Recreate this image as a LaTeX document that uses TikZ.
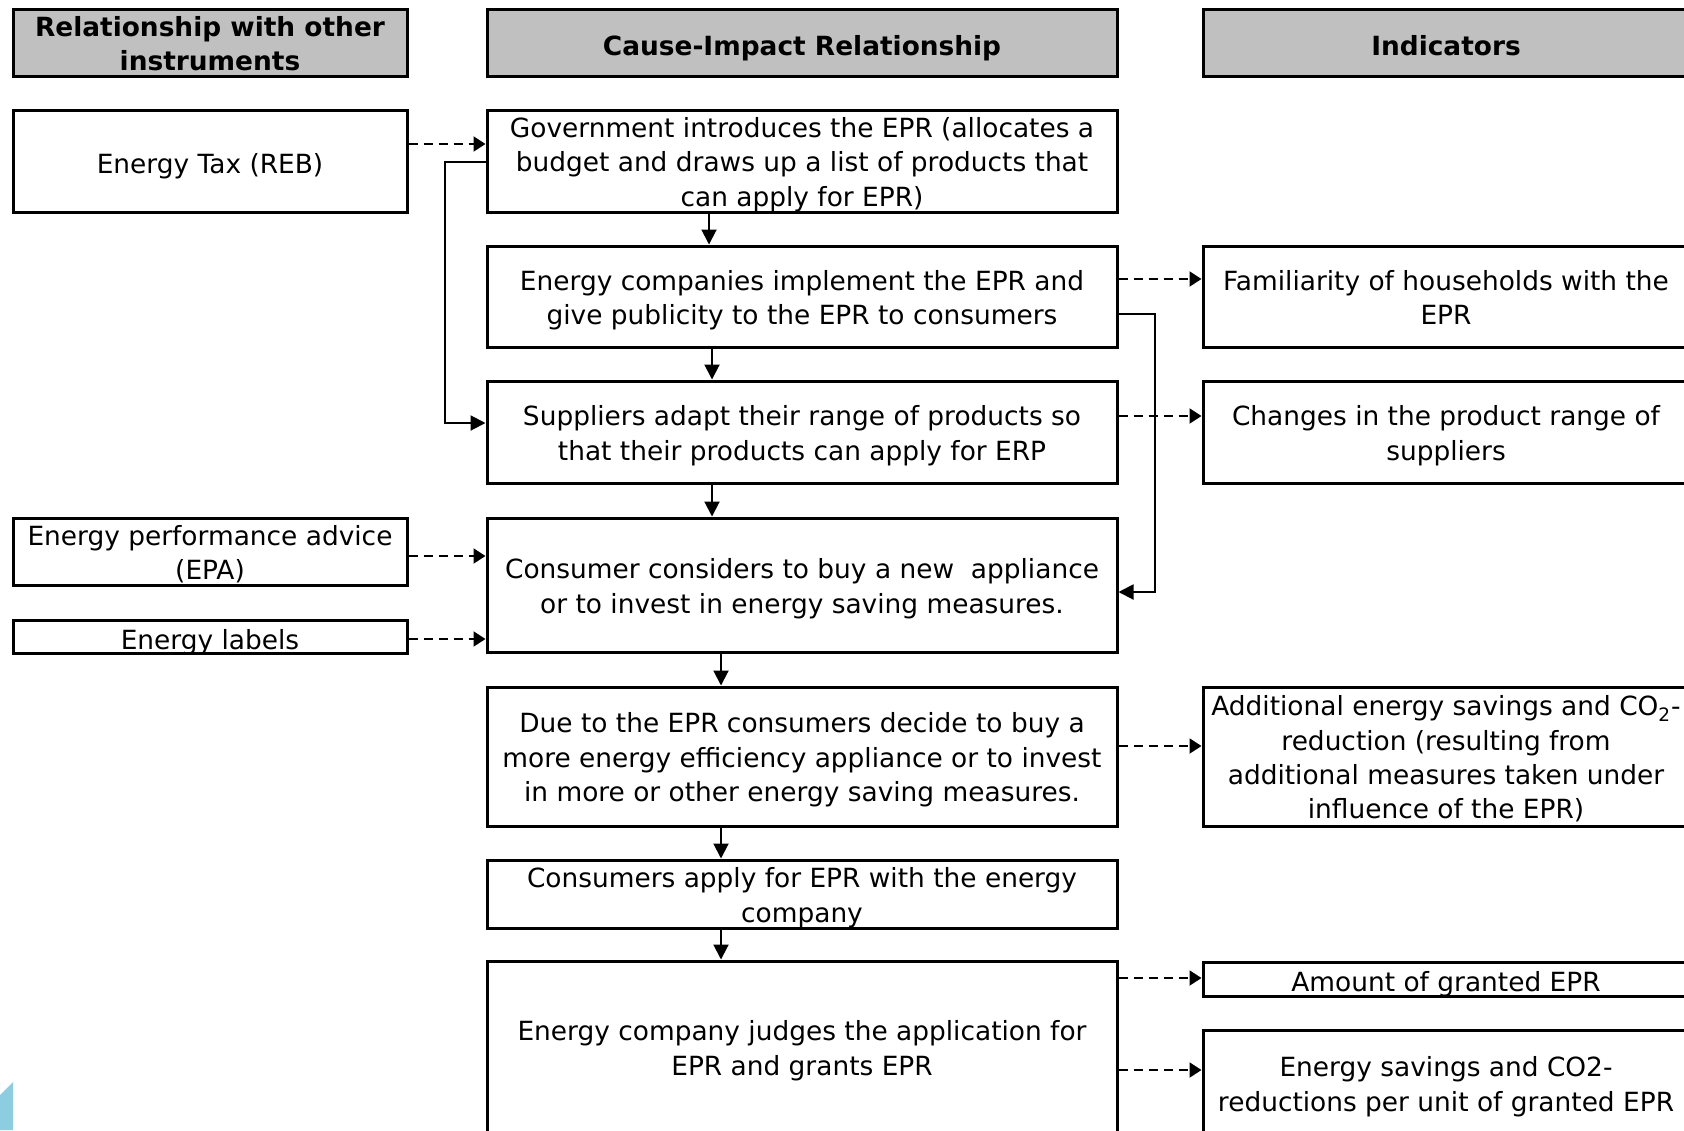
\documentclass[tikz,border=0pt]{standalone}
\usepackage{fontspec}
\setmainfont{DejaVu Sans}
\usetikzlibrary{arrows.meta}
\definecolor{hdrgray}{RGB}{192,192,192}
\definecolor{cornerblue}{RGB}{140,205,225}
\begin{document}
\begin{tikzpicture}[x=0.5pt,y=-0.5pt,
  frame/.style={draw=black, line width=1.5pt, fill=white, inner sep=0pt},
  lbox/.style={frame, minimum width=197pt},
  mbox/.style={frame, minimum width=315pt},
  rbox/.style={frame, minimum width=243pt},
  hdr/.style={fill=hdrgray},
  txt/.style={align=center, inner sep=0pt, yshift=-3pt,
    font=\fontsize{13.2pt}{17.2pt}\selectfont,
    execute at begin node=\strut, execute at end node=\strut},
  htxt/.style={txt, font=\fontsize{13.2pt}{17.2pt}\selectfont\bfseries},
  flow/.style={line width=1pt, -{Triangle[length=7.5pt,width=7.5pt]}},
  dflow/.style={line width=1pt, dash pattern=on 4.5pt off 3pt, -{Triangle[length=6pt,width=7.5pt]}},
]
\useasboundingbox (0,0) rectangle (1684,1130);
\clip (0,0) rectangle (1684,1130);

% corner decoration
\fill[cornerblue] (0,1095) -- (13,1082) -- (13,1130) -- (0,1130) -- cycle;

% headers
\node[lbox, hdr, minimum height=33.5pt] (h1) at (210,42.5) {};
\node[htxt] (h1t) at (h1) {Relationship with other\\instruments};
\node[mbox, hdr, minimum height=33.5pt] (h2) at (802,42.5) {};
\node[htxt] (h2t) at (h2) {Cause-Impact Relationship};
\node[rbox, hdr, minimum height=33.5pt] (h3) at (1446,42.5) {};
\node[htxt] (h3t) at (h3) {Indicators};

% left column
\node[lbox, minimum height=51pt] (tax) at (210,161) {};
\node[txt] (taxt) at (tax) {Energy Tax (REB)};
\node[lbox, minimum height=33.5pt] (epa) at (210,551.5) {};
\node[txt] (epat) at (epa) {Energy performance advice\\(EPA)};
\node[lbox, minimum height=16.5pt] (lab) at (210,636.5) {};
\node[txt] (labt) at (lab) {Energy labels};

% middle column
\node[mbox, minimum height=51pt] (gov) at (802,161) {};
\node[txt] (govt) at (gov) {Government introduces the EPR (allocates a\\budget and draws up a list of products that\\can apply for EPR)};
\node[mbox, minimum height=50.5pt] (comp) at (802,296.5) {};
\node[txt] (compt) at (comp) {Energy companies implement the EPR and\\give publicity to the EPR to consumers};
\node[mbox, minimum height=51pt] (supp) at (802,432) {};
\node[txt] (suppt) at (supp) {Suppliers adapt their range of products so\\that their products can apply for ERP};
\node[mbox, minimum height=67pt] (cons) at (802,585) {};
\node[txt] (const) at (cons) {Consumer considers to buy a new\ \ appliance\\or to invest in energy saving measures.};
\node[mbox, minimum height=69.5pt] (due) at (802,756.5) {};
\node[txt] (duet) at (due) {Due to the EPR consumers decide to buy a\\more energy efficiency appliance or to invest\\in more or other energy saving measures.};
\node[mbox, minimum height=34pt] (appl) at (802,894) {};
\node[txt] (applt) at (appl) {Consumers apply for EPR with the energy\\company};
\node[mbox, minimum height=86pt] (judge) at (802,1047) {};
\node[txt] (judget) at (judge) {Energy company judges the application for\\EPR and grants EPR};

% right column
\node[rbox, minimum height=50.5pt] (fam) at (1446,296.5) {};
\node[txt] (famt) at (fam) {Familiarity of households with the\\EPR};
\node[rbox, minimum height=51pt] (chg) at (1446,432) {};
\node[txt] (chgt) at (chg) {Changes in the product range of\\suppliers};
\node[rbox, minimum height=69.5pt] (add) at (1446,756.5) {};
\node[txt] (addt) at (add) {Additional energy savings and CO\textsubscript{2}-\\reduction (resulting from\\additional measures taken under\\influence of the EPR)};
\node[rbox, minimum height=17pt] (amt) at (1446,979) {};
\node[txt] (amtt) at (amt) {Amount of granted EPR};
\node[rbox, minimum height=53pt] (sav) at (1446,1083) {};
\node[txt] (savt) at (sav) {Energy savings and CO2-\\reductions per unit of granted EPR};

% main flow
\draw[flow] (gov.south -| 709,0) -- (comp.north -| 709,0);
\draw[flow] (comp.south -| 712,0) -- (supp.north -| 712,0);
\draw[flow] (supp.south -| 712,0) -- (cons.north -| 712,0);
\draw[flow] (cons.south -| 721,0) -- (due.north -| 721,0);
\draw[flow] (due.south -| 721,0) -- (appl.north -| 721,0);
\draw[flow] (appl.south -| 721,0) -- (judge.north -| 721,0);

% side solid connectors
\draw[flow] (gov.west |- 0,162) -- (445,162) |- (supp.west |- 0,423);
\draw[flow] (comp.east |- 0,314) -- (1155,314) |- (cons.east |- 0,592);

% dashed influences
\draw[dflow] (tax.east |- 0,144) -- (gov.west |- 0,144);
\draw[dflow] (epa.east |- 0,556) -- (cons.west |- 0,556);
\draw[dflow] (lab.east |- 0,639) -- (cons.west |- 0,639);
\draw[dflow] (comp.east |- 0,279) -- (fam.west |- 0,279);
\draw[dflow] (supp.east |- 0,416) -- (chg.west |- 0,416);
\draw[dflow] (due.east |- 0,746) -- (add.west |- 0,746);
\draw[dflow] (judge.east |- 0,978) -- (amt.west |- 0,978);
\draw[dflow] (judge.east |- 0,1070) -- (sav.west |- 0,1070);
\end{tikzpicture}
\end{document}
